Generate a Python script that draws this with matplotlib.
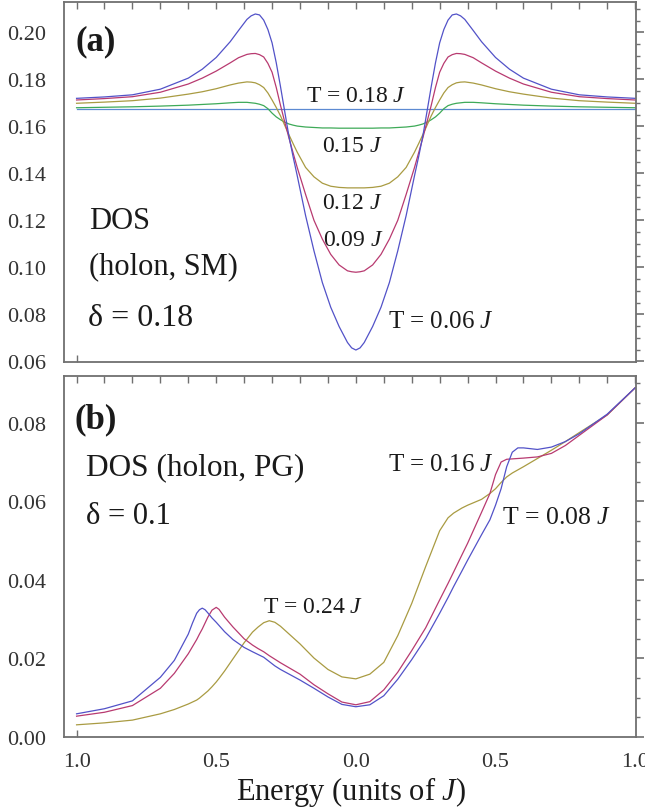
"""Holon density of states, two stacked panels.

(a) SM phase at several temperatures, (b) PG phase.
"""

import matplotlib
matplotlib.use("Agg")
from matplotlib import pyplot as plt
from matplotlib.ticker import MultipleLocator

plt.rcParams["font.family"] = ["Liberation Serif", "DejaVu Serif"]
plt.rcParams["mathtext.fontset"] = "custom"
plt.rcParams["mathtext.rm"] = "Liberation Serif"
plt.rcParams["mathtext.it"] = "Liberation Serif:italic"

# ---- panel (a): delta = 0.18, SM ----
energy_a = [-1.0, -0.9, -0.8, -0.7, -0.6, -0.55, -0.5, -0.45, -0.42, -0.39,
            -0.375, -0.36, -0.345, -0.33, -0.315, -0.30, -0.285, -0.27,
            -0.255, -0.24, -0.225, -0.21, -0.18, -0.15, -0.12, -0.09, -0.06,
            -0.03, -0.015, 0.0, 0.015, 0.03, 0.06, 0.09, 0.12, 0.15, 0.18,
            0.21, 0.225, 0.24, 0.255, 0.27, 0.285, 0.30, 0.315, 0.33, 0.345,
            0.36, 0.375, 0.39, 0.42, 0.45, 0.5, 0.55, 0.6, 0.7, 0.8, 0.9, 1.0]
dos_a_t006 = [0.1719, 0.1725, 0.1734, 0.1758, 0.1805, 0.1843, 0.1893, 0.1960,
              0.2008, 0.2055, 0.2070, 0.2078, 0.2074, 0.2052, 0.2012, 0.1955,
              0.1870, 0.1770, 0.1665, 0.1560, 0.1472, 0.1390, 0.1220, 0.1070,
              0.0935, 0.0830, 0.0748, 0.0680, 0.0657, 0.0648, 0.0657, 0.0680,
              0.0748, 0.0830, 0.0935, 0.1070, 0.1220, 0.1390, 0.1472, 0.1560,
              0.1665, 0.1770, 0.1870, 0.1955, 0.2012, 0.2052, 0.2074, 0.2078,
              0.2070, 0.2055, 0.2008, 0.1960, 0.1893, 0.1843, 0.1805, 0.1758,
              0.1734, 0.1725, 0.1719]
dos_a_t009 = [0.1712, 0.1718, 0.1726, 0.1745, 0.1780, 0.1805, 0.1835, 0.1870,
              0.1892, 0.1906, 0.1909, 0.1910, 0.1905, 0.1895, 0.1868, 0.1830,
              0.1765, 0.1690, 0.1620, 0.1552, 0.1488, 0.1425, 0.1310, 0.1200,
              0.1120, 0.1055, 0.1010, 0.0985, 0.0981, 0.0979, 0.0981, 0.0985,
              0.1010, 0.1055, 0.1120, 0.1200, 0.1310, 0.1425, 0.1488, 0.1552,
              0.1620, 0.1690, 0.1765, 0.1830, 0.1868, 0.1895, 0.1905, 0.1910,
              0.1909, 0.1906, 0.1892, 0.1870, 0.1835, 0.1805, 0.1780, 0.1745,
              0.1726, 0.1718, 0.1712]
dos_a_t012 = [0.1698, 0.1703, 0.1709, 0.1720, 0.1737, 0.1747, 0.1760, 0.1776,
              0.1784, 0.1789, 0.1788, 0.1785, 0.1777, 0.1765, 0.1742, 0.1712,
              0.1680, 0.1645, 0.1605, 0.1565, 0.1527, 0.1490, 0.1425, 0.1385,
              0.1358, 0.1345, 0.1340, 0.1338, 0.1338, 0.1338, 0.1338, 0.1338,
              0.1340, 0.1345, 0.1358, 0.1385, 0.1425, 0.1490, 0.1527, 0.1565,
              0.1605, 0.1645, 0.1680, 0.1712, 0.1742, 0.1765, 0.1777, 0.1785,
              0.1788, 0.1789, 0.1784, 0.1776, 0.1760, 0.1747, 0.1737, 0.1720,
              0.1709, 0.1703, 0.1698]
dos_a_t015 = [0.1679, 0.1681, 0.1683, 0.1686, 0.1690, 0.1693, 0.1696, 0.1700,
              0.1702, 0.1702, 0.1700, 0.1698, 0.1694, 0.1688, 0.1675, 0.1656,
              0.1640, 0.1628, 0.1618, 0.1610, 0.1605, 0.1601, 0.1597, 0.1595,
              0.1593, 0.1593, 0.1592, 0.1592, 0.1592, 0.1592, 0.1592, 0.1592,
              0.1592, 0.1593, 0.1593, 0.1595, 0.1597, 0.1601, 0.1605, 0.1610,
              0.1618, 0.1628, 0.1640, 0.1656, 0.1675, 0.1688, 0.1694, 0.1698,
              0.1700, 0.1702, 0.1702, 0.1700, 0.1696, 0.1693, 0.1690, 0.1686,
              0.1683, 0.1681, 0.1679]
energy_a_flat = [-1.0, 1.0]
dos_a_t018 = [0.1672, 0.1672]

# ---- panel (b): delta = 0.1, PG ----
energy_b = [-1.0, -0.9, -0.8, -0.7, -0.65, -0.6, -0.585, -0.57, -0.56, -0.55,
            -0.54, -0.53, -0.515, -0.5, -0.49, -0.47, -0.44, -0.4, -0.37,
            -0.35, -0.33, -0.31, -0.29, -0.27, -0.2, -0.15, -0.1, -0.05, 0.0,
            0.05, 0.1, 0.15, 0.2, 0.25, 0.3, 0.33, 0.35, 0.38, 0.4, 0.45,
            0.48, 0.5, 0.52, 0.54, 0.56, 0.58, 0.6, 0.65, 0.7, 0.75, 0.8, 0.9,
            1.0]
dos_b_t008 = [0.0059, 0.0072, 0.0092, 0.0152, 0.0195, 0.0262, 0.0290, 0.0315,
              0.0324, 0.0328, 0.0324, 0.0316, 0.0303, 0.0292, 0.0284, 0.0268,
              0.0248, 0.0228, 0.0217, 0.0210, 0.0203, 0.0192, 0.0181, 0.0172,
              0.0145, 0.0124, 0.0102, 0.0083, 0.0077, 0.0082, 0.0105, 0.0147,
              0.0197, 0.0251, 0.0315, 0.0355, 0.0383, 0.0423, 0.0450, 0.0515,
              0.0553, 0.0590, 0.0632, 0.0688, 0.0725, 0.0736, 0.0736, 0.0732,
              0.0738, 0.0752, 0.0772, 0.0822, 0.0889]
dos_b_t016 = [0.0053, 0.0063, 0.0080, 0.0124, 0.0162, 0.0212, 0.0230, 0.0248,
              0.0262, 0.0275, 0.0290, 0.0305, 0.0323, 0.0330, 0.0325, 0.0305,
              0.0280, 0.0250, 0.0234, 0.0225, 0.0217, 0.0207, 0.0198, 0.0189,
              0.0160, 0.0133, 0.0110, 0.0089, 0.0082, 0.0090, 0.0120, 0.0165,
              0.0220, 0.0278, 0.0349, 0.0391, 0.0420, 0.0464, 0.0493, 0.0572,
              0.0620, 0.0668, 0.0700, 0.0707, 0.0708, 0.0709, 0.0710, 0.0713,
              0.0722, 0.0742, 0.0768, 0.0820, 0.0889]
dos_b_t024 = [0.0031, 0.0036, 0.0043, 0.0059, 0.0070, 0.0084, 0.0089, 0.0094,
              0.0099, 0.0105, 0.0111, 0.0117, 0.0128, 0.0140, 0.0149, 0.0168,
              0.0199, 0.0240, 0.0267, 0.0280, 0.0291, 0.0296, 0.0292, 0.0282,
              0.0237, 0.0201, 0.0172, 0.0153, 0.0148, 0.0160, 0.0190, 0.0258,
              0.0340, 0.0434, 0.0525, 0.0558, 0.0570, 0.0583, 0.0590, 0.0605,
              0.0620, 0.0632, 0.0648, 0.0662, 0.0672, 0.0680, 0.0688, 0.0709,
              0.0730, 0.0752, 0.0775, 0.0820, 0.0889]

xtick_pos = [-1.0, -0.5, 0.0, 0.5, 1.0]
xtick_labels = ["1.0", "0.5", "0.0", "0.5", "1.0"]
yticks_a = [0.06, 0.08, 0.10, 0.12, 0.14, 0.16, 0.18, 0.20]
yticks_b = [0.00, 0.02, 0.04, 0.06, 0.08]

BLUE = "#5252c8"
MAGENTA = "#b83a70"
OLIVE = "#a99b42"
GREEN = "#3eaa58"
SKY = "#5c8ad2"
GRAY = "#707070"
TEXT = "#1a1a1a"
LW = 0.9


def style_panel(ax, ylim, yticks, show_xlabels):
    """Frame, ticks and tick labels shared by both panels."""
    ax.set_xlim(-1.045, 1.003)
    ax.set_ylim(*ylim)
    for spine in ax.spines.values():
        spine.set_color(GRAY)
        spine.set_linewidth(1.3)

    ax.set_yticks(yticks)
    ax.set_yticklabels(["%.2f" % v for v in yticks])
    ax.yaxis.set_minor_locator(MultipleLocator(0.005))
    ax.tick_params(axis="y", which="both", left=False, right=True,
                   labelleft=True, labelright=False, direction="out",
                   color=GRAY, labelcolor="#333333", labelsize=16, pad=7)
    ax.tick_params(axis="y", which="major", length=6, width=1.2)
    ax.tick_params(axis="y", which="minor", length=3, width=1.0)

    ax.xaxis.remove_overlapping_locs = False
    ax.set_xticks(xtick_pos)
    ax.set_xticks([-1.0], minor=True)
    ax.tick_params(axis="x", which="major", length=0, top=False,
                   labelbottom=show_xlabels, labelsize=16,
                   labelcolor="#333333", pad=11)
    ax.tick_params(axis="x", which="minor", bottom=True, top=False,
                   direction="in", length=5, width=1.0, color=GRAY)
    if show_xlabels:
        ax.set_xticklabels(xtick_labels)

    top = ax.secondary_xaxis("top")
    top.xaxis.set_major_locator(MultipleLocator(0.1))
    top.tick_params(direction="in", length=5, width=1.0, color=GRAY,
                    labeltop=False)
    top.spines["top"].set_visible(False)


fig = plt.figure(figsize=(6.45, 8.12), dpi=100)

# ---------------- panel (a) ----------------
ax_a = fig.add_axes([64 / 645, 1 - 363 / 812, 572 / 645, 360 / 812])
ax_a.plot(energy_a_flat, dos_a_t018, color=SKY, lw=LW)
ax_a.plot(energy_a, dos_a_t015, color=GREEN, lw=LW)
ax_a.plot(energy_a, dos_a_t012, color=OLIVE, lw=LW)
ax_a.plot(energy_a, dos_a_t009, color=MAGENTA, lw=LW)
ax_a.plot(energy_a, dos_a_t006, color=BLUE, lw=LW)
style_panel(ax_a, (0.0597, 0.2129), yticks_a, False)

ax_a.text(-1.003, 0.1962, "(a)", fontsize=25, fontweight="bold",
          ha="left", va="center", color=TEXT)
ax_a.text(-0.955, 0.1198, "DOS", fontsize=22, ha="left", va="center",
          color=TEXT)
ax_a.text(-0.955, 0.1007, "(holon, SM)", fontsize=22, ha="left",
          va="center", color=TEXT)
ax_a.text(-0.958, 0.0787, "\u03b4 = 0.18", fontsize=23, ha="left",
          va="center", color=TEXT)
ax_a.text(-0.18, 0.1729, "T = 0.18 $J$", fontsize=17, ha="left",
          va="center", color=TEXT)
ax_a.text(-0.121, 0.1517, "0.15 $J$", fontsize=17, ha="left", va="center",
          color=TEXT)
ax_a.text(-0.12, 0.1277, "0.12 $J$", fontsize=17, ha="left", va="center",
          color=TEXT)
ax_a.text(-0.117, 0.1120, "0.09 $J$", fontsize=17, ha="left", va="center",
          color=TEXT)
ax_a.text(0.116, 0.0773, "T = 0.06 $J$", fontsize=18, ha="left",
          va="center", color=TEXT)

# ---------------- panel (b) ----------------
ax_b = fig.add_axes([64 / 645, 1 - 738 / 812, 572 / 645, 361 / 812])
ax_b.plot(energy_b, dos_b_t024, color=OLIVE, lw=LW)
ax_b.plot(energy_b, dos_b_t016, color=MAGENTA, lw=LW)
ax_b.plot(energy_b, dos_b_t008, color=BLUE, lw=LW)
style_panel(ax_b, (0.0, 0.0919), yticks_b, True)

ax_b.text(-1.006, 0.0810, "(b)", fontsize=25, fontweight="bold",
          ha="left", va="center", color=TEXT)
ax_b.text(-0.965, 0.0688, "DOS (holon, PG)", fontsize=22.5, ha="left",
          va="center", color=TEXT)
ax_b.text(-0.965, 0.0565, "\u03b4 = 0.1", fontsize=22, ha="left",
          va="center", color=TEXT)
ax_b.text(-0.334, 0.0332, "T = 0.24 $J$", fontsize=17, ha="left",
          va="center", color=TEXT)
ax_b.text(0.116, 0.0696, "T = 0.16 $J$", fontsize=18, ha="left",
          va="center", color=TEXT)
ax_b.text(0.522, 0.0561, "T = 0.08 $J$", fontsize=18.5, ha="left",
          va="center", color=TEXT)

fig.text(0.545, 0.0148, "Energy (units of $J$)", fontsize=22,
         ha="center", va="baseline", color=TEXT)

fig.savefig("out.png", dpi=100)
